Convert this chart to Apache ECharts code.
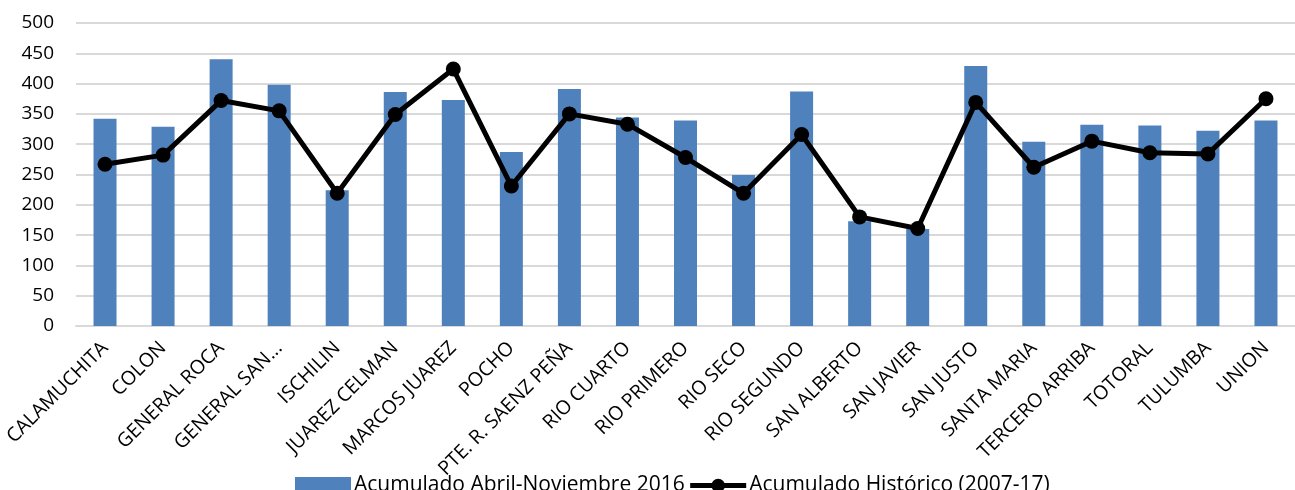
<!DOCTYPE html>
<html>
<head>
<meta charset="utf-8">
<script src="https://cdn.jsdelivr.net/npm/echarts@6/dist/echarts.min.js"></script>
<style>
html,body{margin:0;padding:0;background:#fff;}
#chart{width:1295px;height:490px;}
</style>
</head>
<body>
<div id="chart"></div>
<script>
const categories = ["CALAMUCHITA","COLON","GENERAL ROCA","GENERAL SAN...","ISCHILIN","JUAREZ CELMAN","MARCOS JUAREZ","POCHO","PTE. R. SAENZ PEÑA","RIO CUARTO","RIO PRIMERO","RIO SECO","RIO SEGUNDO","SAN ALBERTO","SAN JAVIER","SAN JUSTO","SANTA MARIA","TERCERO ARRIBA","TOTORAL","TULUMBA","UNION"];
const acumulado2016 = [342,329,440,398,224,386,373,287,391,344,339,249,387,173,160,429,304,332,331,322,339];
const historico = [267,282,372,355,219,349,424,231,350,333,278,219,316,180,161,369,262,305,286,284,375];
const seriesNames = ["Acumulado Abril-Noviembre 2016","Acumulado Histórico (2007-17)"];
const yTicks = {min:0, max:500, interval:50};

const font = "'Open Sans', 'Noto Sans', sans-serif";
const chart = echarts.init(document.getElementById('chart'), null, {renderer:'canvas'});
chart.setOption({
  animation:false,
  backgroundColor:'#ffffff',
  grid:{left:76, right:-13, top:23, bottom:164, containLabel:false},
  legend:{
    left:290, top:470,
    itemGap:3,
    itemWidth:56, itemHeight:17,
    lineStyle:{width:5},
    textStyle:{fontFamily:font, fontSize:21, color:'#000', padding:[0,0,0,-2]},
    data:[{name:seriesNames[0], icon:'rect', itemStyle:{color:'#4f81bd'}}, {name:seriesNames[1]}]
  },
  xAxis:{
    type:'category',
    data:categories,
    axisLine:{lineStyle:{color:'#d9d9d9', width:2}},
    axisTick:{show:false},
    axisLabel:{interval:0, rotate:45, fontFamily:font, fontSize:19.5, color:'#000', margin:19}
  },
  yAxis:{
    type:'value',
    min:yTicks.min, max:yTicks.max, interval:yTicks.interval,
    axisLine:{show:false},
    axisTick:{show:false},
    splitLine:{lineStyle:{color:'#d9d9d9', width:2}},
    axisLabel:{fontFamily:font, fontSize:19, color:'#000', margin:22}
  },
  series:[
    {
      name:seriesNames[0], type:'bar', data:acumulado2016,
      barWidth:23,
      itemStyle:{color:'#4f81bd'}
    },
    {
      name:seriesNames[1], type:'line', data:historico,
      symbol:'circle', symbolSize:15,
      lineStyle:{color:'#000', width:5},
      itemStyle:{color:'#000'}
    }
  ]
});
</script>
</body>
</html>
